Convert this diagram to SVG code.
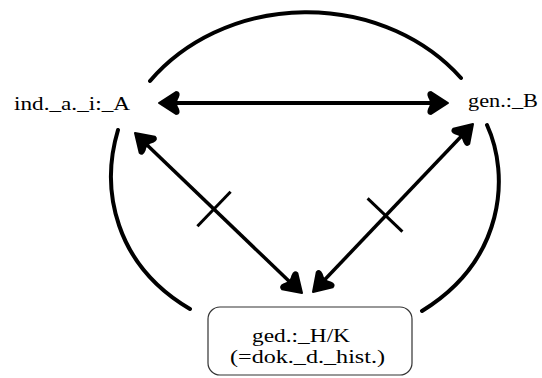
<svg xmlns="http://www.w3.org/2000/svg" width="542" height="378" viewBox="0 0 542 378">
<style>
.arc{fill:none;stroke:#000;stroke-width:4;stroke-linecap:round}
.ln{fill:none;stroke:#000;stroke-width:3.5}
.tick{fill:none;stroke:#000;stroke-width:3}
.ah{fill:#000;stroke:#000;stroke-width:2;stroke-linejoin:round}
.lbl{font-family:"Liberation Serif","Times New Roman",serif;font-size:19px;fill:#000}
.box{fill:#fff;stroke:#333;stroke-width:1.2}
</style>
<defs>
<path id="ah" class="ah" d="M0,0 L-17,-11 Q-21,-11 -19,-6 Q-15,0 -19,6 Q-21,11 -17,11 Z"/>
</defs>
<rect width="542" height="378" fill="#fff"/>
<g id="connectors">
<path class="arc" d="M150,81 A196 172 0 0 1 461,78"/>
<path class="arc" d="M118,130 C100,190 115,265 190,309"/>
<path class="arc" d="M487,125 C510,175 505,260 422,311"/>
<line class="ln" x1="172" y1="103" x2="435" y2="103" style="stroke-width:4"/>
<use href="#ah" transform="translate(159,103) rotate(180)"/>
<use href="#ah" transform="translate(448,103)"/>
<line class="ln" x1="145" y1="143" x2="292" y2="284"/>
<use href="#ah" transform="translate(302,293) rotate(43.8)"/>
<use href="#ah" transform="translate(135,133) rotate(223.8)"/>
<line class="tick" x1="197.4" y1="226.3" x2="230.6" y2="191.7"/>
<line class="ln" x1="323" y1="281.5" x2="463" y2="134.5"/>
<use href="#ah" transform="translate(473,124) rotate(-46.4)"/>
<use href="#ah" transform="translate(313,292) rotate(133.6)"/>
<line class="tick" x1="367.6" y1="198.4" x2="402.4" y2="231.6"/>
</g>
<g id="nodeA">
<text class="lbl" x="14" y="110" textLength="116" lengthAdjust="spacingAndGlyphs">ind._a._i:_A</text>
</g>
<g id="nodeB">
<text class="lbl" x="468" y="107" textLength="70" lengthAdjust="spacingAndGlyphs">gen.:_B</text>
</g>
<g id="nodeHK">
<rect class="box" x="208" y="307" width="204" height="68" rx="12" ry="12"/>
<text class="lbl" x="252" y="342" textLength="98" lengthAdjust="spacingAndGlyphs">ged.:_H/K</text>
<text class="lbl" x="230" y="363" textLength="155" lengthAdjust="spacingAndGlyphs">(=dok._d._hist.)</text>
</g>
</svg>
